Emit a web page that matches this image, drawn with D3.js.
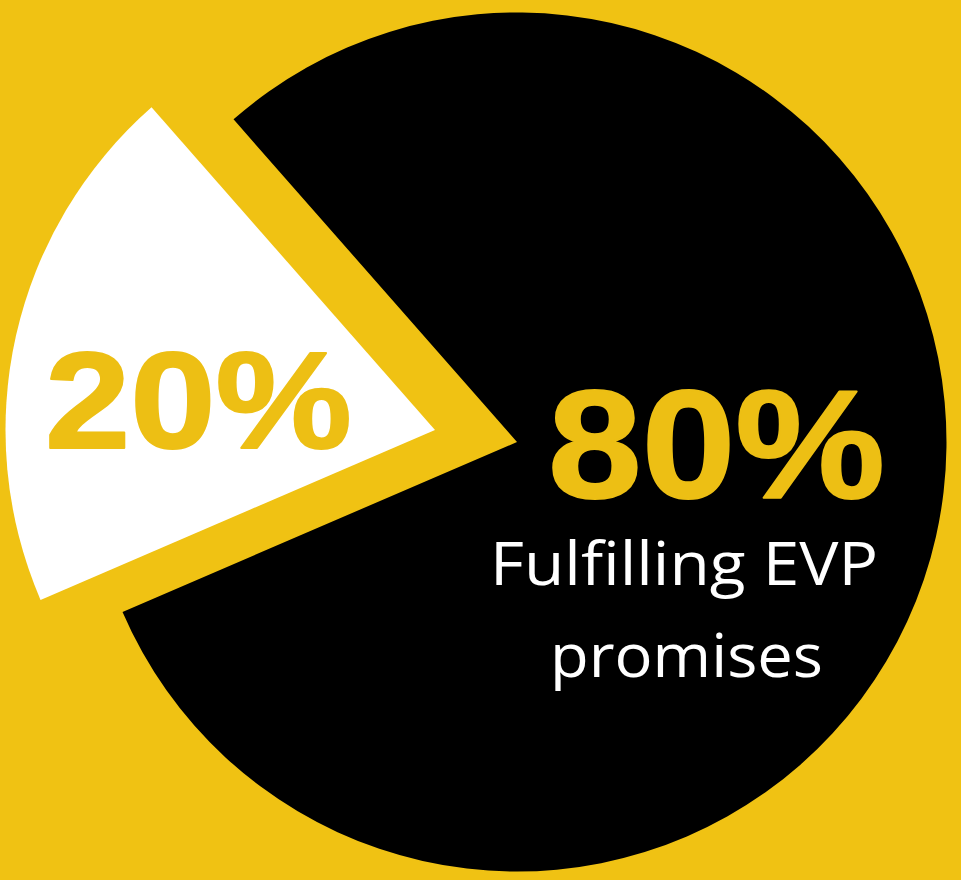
<!DOCTYPE html>
<html>
<head>
<meta charset="utf-8">
<script src="https://cdn.jsdelivr.net/npm/d3@7"></script>
<style>
  html, body { margin: 0; padding: 0; background: #F0C213; overflow: hidden; }
  svg { display: block; }
</style>
</head>
<body>
<svg id="chart" width="961" height="880"></svg>
<script>
// Share of EVP promises kept
const categories = ["Not fulfilling EVP promises", "Fulfilling EVP promises"];
const values = [20, 80];
const sliceColors = ["#FFFFFF", "#000000"];
const caption = ["Fulfilling EVP", "promises"];

const W = 961, H = 880;
const cx = 517, cy = 442, R = 429.5;
const yellow = "#F0C213";
const labelYellow = "#EDBF14";
const deg = Math.PI / 180;
const startAngle = -113.3 * deg;

const svg = d3.select("#chart");
svg.append("rect").attr("width", W).attr("height", H).attr("fill", yellow);

const pie = d3.pie().sort(null).value(d => d)
  .startAngle(startAngle).endAngle(startAngle + 2 * Math.PI);
const arcs = pie(values);
const arc = d3.arc().innerRadius(0).outerRadius(R);

// the small slice is pulled out of the pie
const explode = [{ dx: -82, dy: -12 }, { dx: 0, dy: 0 }];

const g = svg.append("g").attr("transform", `translate(${cx},${cy})`);
g.selectAll("path.slice")
  .data(arcs)
  .join("path")
  .attr("class", "slice")
  .attr("d", arc)
  .attr("fill", (d, i) => sliceColors[i])
  .attr("transform", (d, i) => `translate(${explode[i].dx},${explode[i].dy})`);

// percentage labels
const pct = [
  { x: 45 - cx, y: 448 - cy, size: 138, width: 307 },
  { x: 548 - cx, y: 498 - cy, size: 154, width: 337 }
];
g.selectAll("text.pct")
  .data(arcs)
  .join("text")
  .attr("class", "pct")
  .attr("x", (d, i) => pct[i].x)
  .attr("y", (d, i) => pct[i].y)
  .attr("font-family", "'Liberation Sans', Arial, sans-serif")
  .attr("font-weight", 700)
  .attr("font-size", (d, i) => pct[i].size)
  .attr("textLength", (d, i) => pct[i].width)
  .attr("lengthAdjust", "spacingAndGlyphs")
  .attr("fill", labelYellow)
  .attr("stroke", labelYellow)
  .attr("stroke-width", 2)
  .attr("stroke-linejoin", "round")
  .text(d => `${d.data}%`);

// caption under the large share
const captionWidths = [388, 273];
g.selectAll("text.caption")
  .data(caption)
  .join("text")
  .attr("class", "caption")
  .attr("x", (d, i) => (i === 0 ? 490 : 550) - cx)
  .attr("y", (d, i) => 585 - cy + i * 92)
  .attr("font-family", "'Open Sans', 'Noto Sans', sans-serif")
  .attr("font-size", 61)
  .attr("textLength", (d, i) => captionWidths[i])
  .attr("lengthAdjust", "spacingAndGlyphs")
  .attr("fill", "#FFFFFF")
  .text(d => d);
</script>
</body>
</html>
